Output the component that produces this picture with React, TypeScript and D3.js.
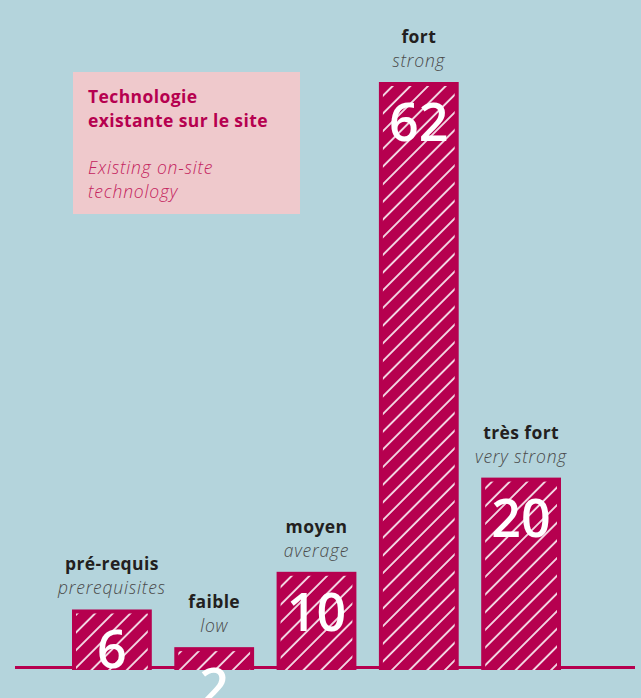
import React, { useEffect, useRef } from 'react';
import * as d3 from 'd3';

const categoriesFr = ['pré-requis', 'faible', 'moyen', 'fort', 'très fort'];
const categoriesEn = ['prerequisites', 'low', 'average', 'strong', 'very strong'];
const values = [6, 2, 10, 62, 20];
const legendTitle = ['Technologie', 'existante sur le site'];
const legendSub = ['Existing on-site', 'technology'];

const W = 641;
const H = 698;
const BG = '#b4d4dc';
const BAR = '#b6004f';
const FONT = "'Open Sans', 'Noto Sans', sans-serif";

export default function App() {
  const ref = useRef<SVGSVGElement>(null);

  useEffect(() => {
    const svg = d3.select(ref.current);
    svg.selectAll('*').remove();

    svg.append('rect').attr('width', W).attr('height', H).attr('fill', BG);

    const defs = svg.append('defs');
    const pat = defs.append('pattern')
      .attr('id', 'hatch')
      .attr('patternUnits', 'userSpaceOnUse')
      .attr('width', 12.5)
      .attr('height', 12.5)
      .attr('patternTransform', 'rotate(45)');
    pat.append('rect').attr('width', 12.5).attr('height', 12.5).attr('fill', BAR);
    pat.append('line')
      .attr('x1', 1).attr('y1', 0).attr('x2', 1).attr('y2', 12.5)
      .attr('stroke', '#ffffff').attr('stroke-width', 1.6);

    const x = d3.scaleBand<string>()
      .domain(categoriesFr)
      .range([72, 561])
      .paddingInner(0.22)
      .paddingOuter(0);
    const y = d3.scaleLinear().domain([0, 62]).range([666, 82]);
    const bottom = y(0) + 4;

    // legend box
    const lg = svg.append('g');
    lg.append('rect').attr('x', 73).attr('y', 72).attr('width', 227).attr('height', 142).attr('fill', '#efc9cc');
    legendTitle.forEach((t, i) => {
      lg.append('text').attr('x', 88).attr('y', 103 + i * 24).text(t)
        .attr('font-family', FONT).attr('font-weight', 700).attr('font-size', 17.5)
        .attr('letter-spacing', 0.4).attr('fill', '#b6004f');
    });
    legendSub.forEach((t, i) => {
      lg.append('text').attr('x', 88).attr('y', 174 + i * 24).text(t)
        .attr('font-family', FONT).attr('font-style', 'italic').attr('font-weight', 300)
        .attr('font-size', 17.5).attr('letter-spacing', 0.8).attr('fill', '#c4245e');
    });

    // baseline
    svg.append('line')
      .attr('x1', 15).attr('x2', 635).attr('y1', 667.5).attr('y2', 667.5)
      .attr('stroke', BAR).attr('stroke-width', 3);

    const g = svg.append('g');
    const bars = g.selectAll('g.bar')
      .data(values)
      .join('g')
      .attr('class', 'bar');

    bars.append('rect')
      .attr('x', (d, i) => x(categoriesFr[i])!)
      .attr('y', d => y(d))
      .attr('width', x.bandwidth())
      .attr('height', d => bottom - y(d))
      .attr('fill', BAR);

    bars.append('rect')
      .attr('x', (d, i) => x(categoriesFr[i])! + 4)
      .attr('y', d => y(d) + 4)
      .attr('width', x.bandwidth() - 8)
      .attr('height', d => bottom - y(d) - 4)
      .attr('fill', 'url(#hatch)');

    bars.append('text')
      .attr('x', (d, i) => x(categoriesFr[i])! + x.bandwidth() / 2)
      .attr('y', d => y(d) + 59)
      .attr('text-anchor', 'middle')
      .attr('font-family', FONT)
      .attr('font-weight', 600)
      .attr('font-size', 52)
      .attr('fill', '#ffffff')
      .text(d => d);

    bars.append('text')
      .attr('x', (d, i) => x(categoriesFr[i])! + x.bandwidth() / 2)
      .attr('y', d => y(d) - 39)
      .attr('text-anchor', 'middle')
      .attr('font-family', FONT)
      .attr('font-weight', 700)
      .attr('font-size', 17.5)
      .attr('letter-spacing', 0.4)
      .attr('fill', '#231f20')
      .text((d, i) => categoriesFr[i]);

    bars.append('text')
      .attr('x', (d, i) => x(categoriesFr[i])! + x.bandwidth() / 2)
      .attr('y', d => y(d) - 15)
      .attr('text-anchor', 'middle')
      .attr('font-family', FONT)
      .attr('font-style', 'italic')
      .attr('font-weight', 300)
      .attr('font-size', 17.5)
      .attr('letter-spacing', 0.8)
      .attr('fill', '#4a4a4a')
      .text((d, i) => categoriesEn[i]);
  }, []);

  return (
    <svg ref={ref} width={W} height={H} style={{ position: 'absolute', left: 0, top: 0 }} />
  );
}
